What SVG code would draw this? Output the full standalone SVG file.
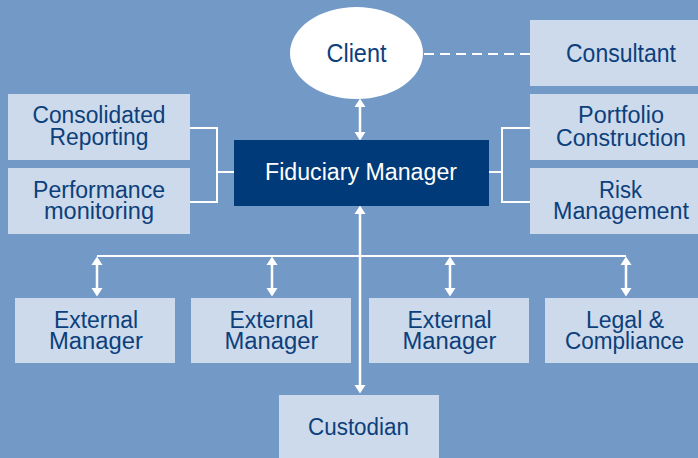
<svg xmlns="http://www.w3.org/2000/svg" width="698" height="458" viewBox="0 0 698 458">
<style>
.bg{fill:#7399C6}
.box{fill:#CCDAEB}
.dark{fill:#003A78}
.t{font-family:"Liberation Sans",Arial,sans-serif;font-size:23.5px;fill:#0D3F7B;text-anchor:middle}
.big{font-size:26px}
.w{fill:#FFFFFF}
.ln{stroke:#FFFFFF;stroke-width:2;fill:none}
.ar{stroke:#FFFFFF;stroke-width:2.5;fill:none;marker-start:url(#ah);marker-end:url(#ah)}
.dash{stroke:#FFFFFF;stroke-width:2;stroke-dasharray:10 6;fill:none}
</style>
<defs>
<marker id="ah" markerUnits="userSpaceOnUse" markerWidth="9" markerHeight="12" refX="4" refY="6" orient="auto-start-reverse" viewBox="0 0 9 12">
<path d="M0,0.5 L8.5,6 L0,11.5 z" fill="#FFFFFF"/>
</marker>
</defs>
<rect class="bg" x="0" y="0" width="698" height="458"/>
<g id="connectors">
<line class="dash" x1="424" y1="54" x2="530" y2="54"/>
<polyline class="ln" points="190,128 217,128 217,202 190,202"/>
<line class="ln" x1="217" y1="172" x2="234" y2="172"/>
<polyline class="ln" points="530,128 502,128 502,202 530,202"/>
<line class="ln" x1="489" y1="172" x2="502" y2="172"/>
<line class="ar" x1="360" y1="103" x2="360" y2="136"/>
<line class="ln" x1="97" y1="256" x2="626" y2="256"/>
<line class="ar" x1="360" y1="210" x2="360" y2="389"/>
<line class="ar" x1="97" y1="261" x2="97" y2="292"/>
<line class="ar" x1="272" y1="261" x2="272" y2="292"/>
<line class="ar" x1="450" y1="261" x2="450" y2="292"/>
<line class="ar" x1="626" y1="261" x2="626" y2="292"/>
</g>
<g id="client">
<ellipse cx="356.5" cy="53" rx="66.5" ry="46" fill="#FFFFFF"/>
<text class="t big" x="356.5" y="62" textLength="60" lengthAdjust="spacingAndGlyphs">Client</text>
</g>
<g id="consultant">
<rect class="box" x="530" y="20" width="168" height="66"/>
<text class="t big" x="621" y="62" textLength="110" lengthAdjust="spacingAndGlyphs">Consultant</text>
</g>
<g id="consolidated-reporting">
<rect class="box" x="8" y="94" width="182" height="66"/>
<text class="t" x="99" y="123" textLength="133" lengthAdjust="spacingAndGlyphs">Consolidated</text>
<text class="t" x="99" y="145" textLength="99" lengthAdjust="spacingAndGlyphs">Reporting</text>
</g>
<g id="performance-monitoring">
<rect class="box" x="8" y="168" width="182" height="66"/>
<text class="t" x="99" y="197.5" textLength="132" lengthAdjust="spacingAndGlyphs">Performance</text>
<text class="t" x="99" y="219" textLength="110" lengthAdjust="spacingAndGlyphs">monitoring</text>
</g>
<g id="fiduciary-manager">
<rect class="dark" x="234" y="140" width="255" height="66"/>
<text class="t w" x="361" y="179.5" textLength="192" lengthAdjust="spacingAndGlyphs">Fiduciary Manager</text>
</g>
<g id="portfolio-construction">
<rect class="box" x="530" y="94" width="168" height="66"/>
<text class="t" x="621" y="123" textLength="86" lengthAdjust="spacingAndGlyphs">Portfolio</text>
<text class="t" x="621" y="145.5" textLength="130" lengthAdjust="spacingAndGlyphs">Construction</text>
</g>
<g id="risk-management">
<rect class="box" x="530" y="168" width="168" height="66"/>
<text class="t" x="620.5" y="197.5" textLength="43" lengthAdjust="spacingAndGlyphs">Risk</text>
<text class="t" x="621" y="219" textLength="136" lengthAdjust="spacingAndGlyphs">Management</text>
</g>
<g id="external-manager-1">
<rect class="box" x="15" y="298" width="160" height="65"/>
<text class="t" x="96" y="327.5" textLength="84" lengthAdjust="spacingAndGlyphs">External</text>
<text class="t" x="96" y="349" textLength="94" lengthAdjust="spacingAndGlyphs">Manager</text>
</g>
<g id="external-manager-2">
<rect class="box" x="191" y="298" width="160" height="65"/>
<text class="t" x="271.5" y="327.5" textLength="84" lengthAdjust="spacingAndGlyphs">External</text>
<text class="t" x="271.5" y="349" textLength="94" lengthAdjust="spacingAndGlyphs">Manager</text>
</g>
<g id="external-manager-3">
<rect class="box" x="369" y="298" width="160" height="65"/>
<text class="t" x="449.5" y="327.5" textLength="84" lengthAdjust="spacingAndGlyphs">External</text>
<text class="t" x="449.5" y="349" textLength="94" lengthAdjust="spacingAndGlyphs">Manager</text>
</g>
<g id="legal-compliance">
<rect class="box" x="545" y="298" width="153" height="65"/>
<text class="t" x="625" y="327.5" textLength="78" lengthAdjust="spacingAndGlyphs">Legal &amp;</text>
<text class="t" x="624.5" y="349" textLength="119" lengthAdjust="spacingAndGlyphs">Compliance</text>
</g>
<g id="custodian">
<rect class="box" x="279" y="395" width="160" height="63"/>
<text class="t" x="358.5" y="435" textLength="101" lengthAdjust="spacingAndGlyphs">Custodian</text>
</g>
</svg>
